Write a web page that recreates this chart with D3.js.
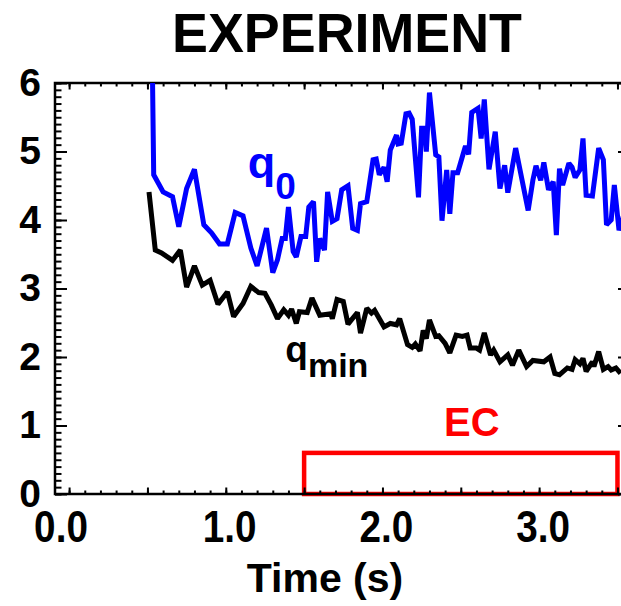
<!DOCTYPE html>
<html>
<head>
<meta charset="utf-8">
<script src="https://cdn.jsdelivr.net/npm/d3@7"></script>
<style>
  body { margin: 0; background: #fff; }
  svg text { font-family: "Liberation Sans", Arial, sans-serif; font-weight: bold; }
</style>
</head>
<body>
<svg width="621" height="606"></svg>
<script>
  // q0 (blue) trace
  var q0Time = [0.53, 0.54, 0.60, 0.66, 0.70, 0.75, 0.80, 0.86, 0.91, 0.96, 1.01, 1.06, 1.11, 1.16, 1.20,
    1.26, 1.30, 1.33, 1.36, 1.38, 1.40, 1.43, 1.45, 1.48, 1.51, 1.53, 1.56, 1.58, 1.60, 1.63, 1.65, 1.68,
    1.71, 1.74, 1.78, 1.81, 1.84, 1.86, 1.90, 1.94, 1.96, 1.98, 2.01, 2.03, 2.05, 2.09, 2.10, 2.12, 2.15,
    2.17, 2.19, 2.23, 2.25, 2.27, 2.28, 2.30, 2.34, 2.36, 2.38, 2.41, 2.43, 2.45, 2.48, 2.53, 2.55, 2.57,
    2.61, 2.63, 2.65, 2.68, 2.72, 2.75, 2.78, 2.80, 2.85, 2.93, 2.96, 2.98, 3.01, 3.03, 3.06, 3.09, 3.11,
    3.13, 3.15, 3.19, 3.21, 3.23, 3.26, 3.28, 3.30, 3.34, 3.38, 3.41, 3.43, 3.46, 3.48, 3.51, 3.54];
  var q0Value = [6.5, 4.66, 4.41, 4.34, 3.90, 4.46, 4.74, 3.93, 3.81, 3.65, 3.65, 4.11, 4.06, 3.59, 3.33,
    3.88, 3.23, 3.42, 3.73, 3.73, 4.19, 3.54, 3.46, 3.76, 3.76, 4.19, 4.27, 3.39, 3.73, 3.56, 4.41, 3.98,
    4.02, 4.44, 4.50, 3.88, 3.85, 4.24, 4.27, 4.88, 4.89, 4.66, 4.77, 4.56, 5.02, 5.24, 5.11, 5.12, 5.55,
    5.56, 5.47, 4.33, 5.34, 5.34, 5.00, 5.86, 4.95, 4.92, 3.99, 4.73, 4.09, 4.69, 4.69, 5.08, 4.96, 5.57,
    5.63, 5.19, 5.76, 4.74, 5.29, 4.46, 4.80, 4.40, 5.05, 4.14, 4.58, 4.79, 4.58, 4.84, 4.44, 4.56, 3.78,
    4.75, 4.51, 4.83, 4.77, 4.62, 4.73, 5.19, 4.36, 4.35, 5.05, 4.88, 3.93, 4.00, 4.51, 3.85, 4.07];

  // qmin (black) trace
  var qminTime = [0.51, 0.55, 0.59, 0.66, 0.71, 0.75, 0.80, 0.85, 0.90, 0.95, 1.01, 1.05, 1.11, 1.16, 1.21,
    1.25, 1.29, 1.33, 1.37, 1.40, 1.42, 1.45, 1.47, 1.52, 1.55, 1.60, 1.67, 1.68, 1.71, 1.75, 1.78, 1.84,
    1.86, 1.90, 1.93, 1.95, 2.01, 2.05, 2.09, 2.11, 2.16, 2.19, 2.21, 2.24, 2.26, 2.28, 2.30, 2.34, 2.36,
    2.40, 2.43, 2.47, 2.51, 2.54, 2.56, 2.60, 2.62, 2.65, 2.69, 2.71, 2.75, 2.80, 2.83, 2.87, 2.92, 2.96,
    3.03, 3.07, 3.10, 3.13, 3.18, 3.21, 3.23, 3.26, 3.28, 3.30, 3.34, 3.35, 3.38, 3.41, 3.44, 3.46, 3.49, 3.52];
  var qminValue = [4.41, 3.56, 3.52, 3.41, 3.56, 3.02, 3.33, 3.05, 3.12, 2.77, 2.95, 2.59, 2.78, 3.03, 2.94,
    2.93, 2.76, 2.56, 2.69, 2.61, 2.70, 2.49, 2.66, 2.65, 2.86, 2.61, 2.63, 2.56, 2.84, 2.81, 2.48, 2.65,
    2.35, 2.71, 2.64, 2.68, 2.44, 2.49, 2.47, 2.56, 2.18, 2.14, 2.19, 2.09, 2.39, 2.27, 2.54, 2.30, 2.31,
    2.20, 2.06, 2.32, 2.30, 2.32, 2.13, 2.13, 2.10, 2.35, 2.03, 2.10, 1.93, 2.03, 1.88, 2.10, 1.86, 1.95,
    1.93, 2.00, 1.76, 1.74, 1.84, 1.82, 1.96, 1.90, 1.98, 1.79, 1.93, 1.86, 2.08, 1.82, 1.86, 1.81, 1.84, 1.76];

  // EC heating window
  var ecStart = 1.5, ecEnd = 3.5, ecHeight = 0.6;

  var xLabels = [0, 1, 2, 3];
  var yLabels = [0, 1, 2, 3, 4, 5, 6];

(function () {
  var svg = d3.select("svg");
  var mLeft = 55, mRight = 630, mTop = 83, mBottom = 494;

  var x = d3.scaleLinear().domain([-0.09, 3.58]).range([mLeft, mRight]);
  var y = d3.scaleLinear().domain([0, 6]).range([mBottom, mTop]);

  svg.append("defs").append("clipPath").attr("id", "plot")
    .append("rect")
    .attr("x", mLeft).attr("y", mTop)
    .attr("width", mRight - mLeft).attr("height", mBottom - mTop);

  var xMajor = d3.range(0, 3.51, 0.5);
  var xMinor = d3.range(0, 3.55, 0.1);
  var yMinor = d3.range(0, 6.01, 0.1);

  function clean(g) {
    g.select(".domain").remove();
    g.selectAll("line").attr("stroke", "#000").attr("stroke-width", 2);
  }

  // EC box
  svg.append("rect")
    .attr("x", x(ecStart))
    .attr("y", y(ecHeight))
    .attr("width", x(ecEnd) - x(ecStart))
    .attr("height", y(0) - y(ecHeight))
    .attr("fill", "none")
    .attr("stroke", "#ff0000")
    .attr("stroke-width", 4.5);

  // minor ticks
  svg.append("g").attr("transform", "translate(0," + mBottom + ")")
    .call(d3.axisBottom(x).tickValues(xMinor).tickSize(-3.5).tickFormat(""))
    .call(clean);
  svg.append("g").attr("transform", "translate(0," + mTop + ")")
    .call(d3.axisTop(x).tickValues(xMinor).tickSize(-3.5).tickFormat(""))
    .call(clean);
  svg.append("g").attr("transform", "translate(" + mLeft + ",0)")
    .call(d3.axisLeft(y).tickValues(yMinor).tickSize(-6.5).tickFormat(""))
    .call(clean);
  svg.append("g").attr("transform", "translate(" + mRight + ",0)")
    .call(d3.axisRight(y).tickValues(yMinor).tickSize(-6.5).tickFormat(""))
    .call(clean);

  // major ticks
  svg.append("g").attr("transform", "translate(0," + mBottom + ")")
    .call(d3.axisBottom(x).tickValues(xMajor).tickSize(-6.5).tickFormat(""))
    .call(clean);
  svg.append("g").attr("transform", "translate(0," + mTop + ")")
    .call(d3.axisTop(x).tickValues(xMajor).tickSize(-6.5).tickFormat(""))
    .call(clean);
  svg.append("g").attr("transform", "translate(" + mLeft + ",0)")
    .call(d3.axisLeft(y).tickValues(yLabels).tickSize(-12).tickFormat(""))
    .call(clean);
  svg.append("g").attr("transform", "translate(" + mRight + ",0)")
    .call(d3.axisRight(y).tickValues(yLabels).tickSize(-12).tickFormat(""))
    .call(clean);

  // frame
  svg.append("rect")
    .attr("x", mLeft).attr("y", mTop)
    .attr("width", mRight - mLeft).attr("height", mBottom - mTop)
    .attr("fill", "none").attr("stroke", "#000").attr("stroke-width", 2.5);

  // tick labels (narrow, tall glyphs as in the original)
  var xAxis = svg.append("g").attr("transform", "translate(0," + mBottom + ")")
    .call(d3.axisBottom(x).tickValues(xLabels).tickSize(0).tickPadding(16).tickFormat(d3.format(".1f")));
  xAxis.select(".domain").remove();
  xAxis.selectAll("text")
    .attr("font-size", 45).attr("fill", "#000")
    .attr("transform", "scale(0.86,1)")
    .attr("dx", function (d) { return d === 0 ? -10 : 4; });

  var yAxis = svg.append("g").attr("transform", "translate(" + mLeft + ",0)")
    .call(d3.axisLeft(y).tickValues(yLabels).tickSize(0).tickPadding(14).tickFormat(d3.format("d")));
  yAxis.select(".domain").remove();
  yAxis.selectAll("text").attr("font-size", 39).attr("fill", "#000");

  // traces
  var plot = svg.append("g").attr("clip-path", "url(#plot)");
  var line = d3.line().x(function (d) { return x(d[0]); }).y(function (d) { return y(d[1]); });

  plot.append("path")
    .attr("d", line(d3.zip(qminTime, qminValue)))
    .attr("fill", "none").attr("stroke", "#000").attr("stroke-width", 5)
    .attr("stroke-linejoin", "miter").attr("stroke-miterlimit", 2);

  plot.append("path")
    .attr("d", line(d3.zip(q0Time, q0Value)))
    .attr("fill", "none").attr("stroke", "#0000ff").attr("stroke-width", 5)
    .attr("stroke-linejoin", "miter").attr("stroke-miterlimit", 2);

  // labels
  svg.append("text")
    .attr("x", 347).attr("y", 52)
    .attr("text-anchor", "middle").attr("font-size", 56)
    .attr("textLength", 350).attr("lengthAdjust", "spacingAndGlyphs")
    .text("EXPERIMENT");

  svg.append("text")
    .attr("x", 325).attr("y", 592)
    .attr("text-anchor", "middle").attr("font-size", 41)
    .text("Time (s)");

  var q0Label = svg.append("text")
    .attr("x", x(1.14)).attr("y", y(4.61))
    .attr("fill", "#0000ff").attr("font-size", 45);
  q0Label.append("tspan").text("q");
  q0Label.append("tspan").attr("dy", 21).attr("font-size", 37).text("0");

  var qminLabel = svg.append("text")
    .attr("x", x(1.38)).attr("y", y(1.93))
    .attr("fill", "#000").attr("font-size", 37);
  qminLabel.append("tspan").text("q");
  qminLabel.append("tspan").attr("dy", 15).attr("font-size", 34).text("min");

  svg.append("text")
    .attr("x", x(2.57)).attr("y", y(0.85))
    .attr("text-anchor", "middle").attr("fill", "#ff0000").attr("font-size", 40)
    .text("EC");
})();
</script>
</body>
</html>
